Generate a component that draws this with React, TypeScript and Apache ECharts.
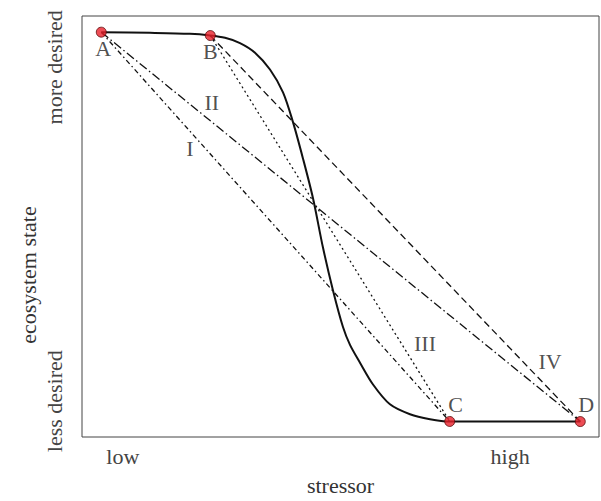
import React, { useEffect, useRef } from "react";
import * as echarts from "echarts";

// Key states (normalised 0–100 on both axes)
const pointNames = ["A", "B", "C", "D"];
const pointX = [3.73, 24.82, 71.12, 96.38];
const pointY = [96.16, 95.36, 3.69, 3.67];
const pointLabelOffsets: [number, number][] = [[2, 16], [0, 16], [6, -17], [6, -17]];

// Non-linear response curve
const curveX = [3.73, 13.15, 20.89, 24.82, 27.66, 30.56, 33.46, 36.36, 38.88, 40.81, 42.75, 44.68, 46.62, 48.55, 50.48, 51.84, 53.77, 56.29, 59.57, 63.44, 67.31, 71.12, 84.72, 96.38];
const curveY = [96.16, 96.0, 95.76, 95.36, 94.82, 93.58, 91.29, 87.29, 81.88, 74.8, 66.12, 56.71, 44.94, 34.82, 26.12, 21.88, 17.65, 12.47, 7.76, 5.41, 4.24, 3.69, 3.67, 3.67];

// Linear pathways
const lineNames = ["I", "II", "III", "IV"];
const lineFrom = ["A", "A", "B", "B"];
const lineTo = ["C", "D", "C", "D"];
const lineDash: number[][] = [[5, 3, 1.5, 3], [9, 3, 1.5, 3], [2, 3], [7, 4]];
const lineLabelX = [20.89, 25.09, 66.34, 90.52];
const lineLabelY = [68.47, 79.46, 22.19, 17.88];

// Axis tick labels
const xTickLabels = ["low", "high"];
const xTickValues = [7.9, 82.8];
const yTickLabels = ["less desired", "more desired"];
const yTickValues = [8.5, 87.8];

const FONT = "Liberation Serif";

export default function App() {
  const ref = useRef<HTMLDivElement>(null);
  useEffect(() => {
    if (!ref.current) return;
    const chart = echarts.init(ref.current, null, { renderer: "svg" });
    const idx = (n: string) => pointNames.indexOf(n);
    const lineSeries = lineNames.map((nm, i) => ({
      type: "line",
      name: nm,
      data: [
        [pointX[idx(lineFrom[i])], pointY[idx(lineFrom[i])]],
        [pointX[idx(lineTo[i])], pointY[idx(lineTo[i])]],
      ],
      symbol: "none",
      lineStyle: { color: "#111", width: 1.3, type: lineDash[i] },
      z: 2,
      silent: true,
    }));
    chart.setOption({
      animation: false,
      grid: { left: 82, right: 2, top: 16, bottom: 60, show: true, borderColor: "#444", borderWidth: 1 },
      graphic: [
        {
          type: "text",
          x: 28,
          y: 275,
          rotation: Math.PI / 2,
          style: {
            text: "ecosystem state",
            fontFamily: FONT,
            fontSize: 22,
            fill: "#333",
            align: "center",
            verticalAlign: "middle",
          },
        },
      ],
      xAxis: {
        type: "value",
        min: 0,
        max: 100,
        name: "stressor",
        nameLocation: "middle",
        nameGap: 37,
        nameTextStyle: { fontFamily: FONT, fontSize: 22, color: "#333" },
        axisLine: { show: false },
        axisTick: { show: false },
        splitLine: { show: false },
        axisLabel: {
          customValues: xTickValues,
          formatter: (v: number) => xTickLabels[xTickValues.indexOf(v)] ?? "",
          fontFamily: FONT,
          fontSize: 22,
          color: "#444",
          margin: 8,
        },
      },
      yAxis: {
        type: "value",
        min: 0,
        max: 100,
        axisLine: { show: false },
        axisTick: { show: false },
        splitLine: { show: false },
        axisLabel: {
          customValues: yTickValues,
          formatter: (v: number) => yTickLabels[yTickValues.indexOf(v)] ?? "",
          fontFamily: FONT,
          fontSize: 22,
          color: "#444",
          rotate: 90,
          margin: 17,
        },
      },
      series: [
        ...lineSeries,
        {
          type: "line",
          name: "curve",
          data: curveX.map((x, i) => [x, curveY[i]]),
          symbol: "none",
          smooth: 0.3,
          lineStyle: { color: "#111", width: 2 },
          z: 3,
          silent: true,
        },
        {
          type: "scatter",
          name: "labels",
          data: lineNames.map((nm, i) => ({ name: nm, value: [lineLabelX[i], lineLabelY[i]] })),
          symbolSize: 0,
          label: {
            show: true,
            position: "inside",
            formatter: "{b}",
            fontFamily: FONT,
            fontSize: 22,
            color: "#222",
          },
          z: 4,
          silent: true,
        },
        {
          type: "scatter",
          name: "states",
          data: pointNames.map((nm, i) => ({
            name: nm,
            value: [pointX[i], pointY[i]],
            label: { offset: pointLabelOffsets[i] },
          })),
          symbolSize: 10,
          itemStyle: { color: "#e8202a", borderColor: "#5a0a0a", borderWidth: 1 },
          label: {
            show: true,
            position: "inside",
            formatter: "{b}",
            fontFamily: FONT,
            fontSize: 22,
            color: "#222",
          },
          z: 5,
          silent: true,
        },
      ],
    });
    return () => chart.dispose();
  }, []);
  return <div ref={ref} style={{ width: 601, height: 501, position: "absolute", left: 0, top: 0 }} />;
}
